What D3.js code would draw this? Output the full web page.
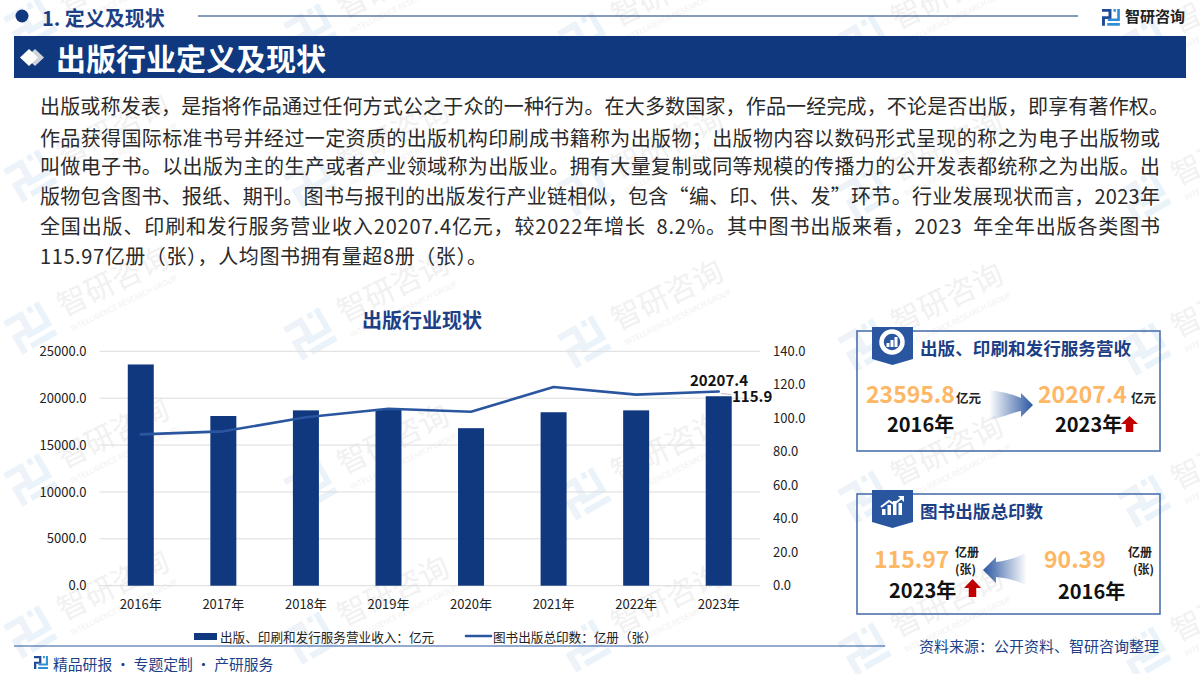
<!DOCTYPE html>
<html><head><meta charset="utf-8">
<script src="https://cdnjs.cloudflare.com/ajax/libs/d3/7.8.5/d3.min.js"></script>
<style>html,body{margin:0;padding:0;background:#fff;overflow:hidden}svg{display:block}text{font-family:"Noto Sans CJK SC","Noto Sans",sans-serif}</style>
</head><body><svg id="c" width="1200" height="674"></svg>
<script>
const categories=["2016年","2017年","2018年","2019年","2020年","2021年","2022年","2023年"];
const revenue=[23595.8,18100,18700,18850,16800,18500,18700,20207.4];
const prints=[90.39,92.2,100.6,105.7,103.9,118.7,114.1,115.97];
const leftTicks=[0,5000,10000,15000,20000,25000];
const rightTicks=[0,20,40,60,80,100,120,140];
const barLegend="出版、印刷和发行服务营业收入：亿元";
const lineLegend="图书出版总印数：亿册（张）";
const bodyLines=[
["出版或称发表，是指将作品通过任何方式公之于众的一种行为。在大多数国家，作品一经完成，不论是否出版，即享有著作权。",1129],
["作品获得国际标准书号并经过一定资质的出版机构印刷成书籍称为出版物；出版物内容以数码形式呈现的称之为电子出版物或",1120],
["叫做电子书。以出版为主的生产或者产业领域称为出版业。拥有大量复制或同等规模的传播力的公开发表都统称之为出版。出",1120],
["版物包含图书、报纸、期刊。图书与报刊的出版发行产业链相似，包含“编、印、供、发”环节。行业发展现状而言，2023年",1120],
["全国出版、印刷和发行服务营业收入20207.4亿元，较2022年增长  8.2%。其中图书出版来看，2023  年全年出版各类图书",1120],
["115.97亿册（张），人均图书拥有量超8册（张）。",447]];
const NAVY="#0f387f",BLUE="#2a56a0",ORANGE="#fdb765",TITLE="#1c3f86";
const svg=d3.select("#c");
const defs=svg.append("defs");
const gr=defs.append("linearGradient").attr("id","ga");
gr.append("stop").attr("offset","0").attr("stop-color",BLUE).attr("stop-opacity",0.02);
gr.append("stop").attr("offset","1").attr("stop-color",BLUE);
const gl=defs.append("linearGradient").attr("id","gb");
gl.append("stop").attr("offset","0").attr("stop-color",BLUE);
gl.append("stop").attr("offset","1").attr("stop-color",BLUE).attr("stop-opacity",0.02);

function txt(p,s,x,y,size,fill,o={}){
  const t=p.append("text").attr("x",x).attr("y",y).attr("font-size",size).attr("fill",fill)
   .attr("text-anchor",o.a||"start").attr("font-weight",o.w||400).attr("dominant-baseline","central").text(s);
  if(o.len)t.attr("textLength",o.len).attr("lengthAdjust","spacing");
  t.style("white-space","pre");
  return t;
}
function logo(p,x,y,s,c1,c2){
  const g=p.append("g").attr("transform",`translate(${x},${y}) scale(${s})`);
  g.append("path").attr("fill",c1).attr("d","M0 0H9V9.5H2.8V16H0V7H6.2V2.6H0Z");
  g.append("path").attr("fill",c2).attr("d","M11 0H13.2V2.6H11ZM14.5 0H17V11.5H5.5V9H14.5ZM5 13.4H17V16H5Z");
  return g;
}
// watermarks
const wm=svg.append("g");
const wmCols=[112,392,666,946,1226], wmBase=[279,285,293,296,300], wmSteps=[-2,-1,0,1,2];
wmCols.forEach((cx,i)=>wmSteps.forEach(k=>{
  const cy=wmBase[i]+152*k;
  const l=wm.append("g").attr("transform",`translate(${cx-82},${cy+49}) rotate(-30)`);
  logo(l,-20,-19,2.4,"#edf3f9","#eaf3fa");
  const g=wm.append("g").attr("transform",`translate(${cx},${cy}) rotate(-26)`);
  txt(g,"智研咨询",0,0,30,"#f1f1f1",{a:"middle",w:400});
  txt(g,"INTELLIGENCE RESEARCH GROUP",0,26,7.5,"#f1f1f1",{a:"middle"});
}));
// header
svg.append("circle").attr("cx",22).attr("cy",16).attr("r",6.5).attr("fill",NAVY);
txt(svg,"1. 定义及现状",42,17,20,TITLE,{w:700});
svg.append("line").attr("x1",198).attr("x2",1078).attr("y1",16).attr("y2",16).attr("stroke",NAVY).attr("stroke-width",1.2);
logo(svg,1102,9,1.05,"#1f4a96","#2f8fd6");
txt(svg,"智研咨询",1125,15,15,"#222",{w:700});
svg.append("rect").attr("x",14).attr("y",36).attr("width",1172).attr("height",42).attr("fill",NAVY);
svg.append("path").attr("d","M35 49L44 57.5L35 66L26 57.5Z").attr("fill","#cfd3da");
svg.append("path").attr("d","M29 49L38 57.5L29 66L20 57.5Z").attr("fill","#fff");
txt(svg,"出版行业定义及现状",56,57,30,"#fff",{w:700});
// body
const bodyY=[105,137,165,195,225,255];
bodyLines.forEach((d,i)=>txt(svg,d[0],40,bodyY[i],20,"#2a2a2a",{len:d[1]}));
// chart
const x=d3.scaleBand().domain(categories).range([99.5,760]);
const yL=d3.scaleLinear().domain([0,25000]).range([585.7,351.3]);
const yR=d3.scaleLinear().domain([0,140]).range([585.7,351.3]);
txt(svg,"出版行业现状",422,319,20,TITLE,{w:700,a:"middle"});
const axL=svg.append("g").attr("transform","translate(99.5,0)").call(d3.axisLeft(yL).tickValues(leftTicks).tickFormat(d3.format(".1f")).tickSize(0).tickPadding(13));
axL.select(".domain").remove();
axL.selectAll(".tick text").attr("font-size",13).attr("fill","#222").attr("font-family",'"Noto Sans CJK SC"');
svg.append("g").selectAll("line").data(leftTicks).join("line").attr("x1",99.5).attr("x2",760)
  .attr("y1",d=>yL(d)).attr("y2",d=>yL(d)).attr("stroke","#dcdcdc").attr("stroke-width",1);
const axR=svg.append("g").attr("transform","translate(760,0)").call(d3.axisRight(yR).tickValues(rightTicks).tickFormat(d3.format(".1f")).tickSize(0).tickPadding(13));
axR.select(".domain").remove();
axR.selectAll(".tick text").attr("font-size",13).attr("fill","#222").attr("font-family",'"Noto Sans CJK SC"');
const axB=svg.append("g").attr("transform","translate(0,585.7)").call(d3.axisBottom(x).tickSize(0).tickPadding(14));
axB.select(".domain").remove();
axB.selectAll(".tick text").attr("font-size",13).attr("fill","#222").attr("font-family",'"Noto Sans CJK SC"');
const bw=26;
svg.append("g").selectAll("rect").data(revenue).join("rect")
 .attr("x",(d,i)=>x(categories[i])+x.bandwidth()/2-bw/2).attr("width",bw)
 .attr("y",d=>yL(d)).attr("height",d=>yL(0)-yL(d)).attr("fill",NAVY);
svg.append("path").datum(prints).attr("fill","none").attr("stroke",BLUE).attr("stroke-width",2.6)
 .attr("stroke-linejoin","round").attr("stroke-linecap","round")
 .attr("d",d3.line().x((d,i)=>x(categories[i])+x.bandwidth()/2).y(d=>yR(d)));
const last=categories.length-1;
txt(svg,d3.format(".1f")(revenue[last]),719,379,15,"#111",{w:700,a:"middle"});
svg.append("line").attr("x1",721).attr("x2",731).attr("y1",yR(prints[last])+2).attr("y2",yR(prints[last])+3).attr("stroke","#bbb");
txt(svg,"115.9",732,395,15,"#111",{w:700});
// legend
svg.append("rect").attr("x",194).attr("y",633).attr("width",23).attr("height",7).attr("fill",NAVY);
txt(svg,barLegend,220,636,12.6,"#222");
svg.append("line").attr("x1",466).attr("x2",491).attr("y1",636).attr("y2",636).attr("stroke",BLUE).attr("stroke-width",2.6).attr("stroke-linecap","round");
txt(svg,lineLegend,493,636,12.6,"#222");
// footer
svg.append("line").attr("x1",14).attr("x2",885).attr("y1",646).attr("y2",646).attr("stroke",BLUE).attr("stroke-width",1.2);
logo(svg,34,656,0.82,"#1f4a96","#2f8fd6");
txt(svg,"精品研报 · 专题定制 · 产研服务",53,663,14.8,TITLE);
txt(svg,"资料来源：公开资料、智研咨询整理",919,645,15,TITLE);
// panels
function panel(y0,title){
  svg.append("rect").attr("x",857).attr("y",y0).attr("width",303).attr("height",120).attr("fill","#fff").attr("fill-opacity",0.0).attr("stroke","#4d72ad").attr("stroke-width",1.6);
  svg.append("path").attr("fill",BLUE).attr("d",`M872 ${y0-4}H913V${y0+28}L892.5 ${y0+34}L872 ${y0+28}Z`);
  txt(svg,title,920,y0+16,17.6,TITLE,{w:700});
}
function upArrow(x0,y0,h){
  const w=17;
  svg.append("path").attr("fill","#c00000").attr("d",`M${x0+w/2} ${y0}L${x0+w} ${y0+h*.5}H${x0+w*.72}V${y0+h}H${x0+w*.28}V${y0+h*.5}H${x0}Z`);
}
panel(331,"出版、印刷和发行服务营收");
// donut icon
svg.append("circle").attr("cx",892).attr("cy",342).attr("r",10.5).attr("fill","none").attr("stroke","#fff").attr("stroke-width",4.5);
svg.append("g").selectAll("rect").data([4,7,10]).join("rect").attr("x",(d,i)=>886.5+i*4).attr("y",d=>347-d).attr("width",3).attr("height",d=>d).attr("fill","#fff");
txt(svg,"23595.8",866,393,23,ORANGE,{w:700});
txt(svg,"亿元",956,397,12.5,"#222",{w:700});
txt(svg,"2016年",887,423,20,"#111",{w:700});
svg.append("path").attr("fill","url(#ga)").attr("d","M990 390C1005 392 1014 395 1021 398V393L1033 405L1021 417V411C1012 413 1003 417 990 420Z");
txt(svg,"20207.4",1038,393,23,ORANGE,{w:700});
txt(svg,"亿元",1131,397,12.5,"#222",{w:700});
txt(svg,"2023年",1055,423,20,"#111",{w:700});
upArrow(1121,416,16);

panel(494,"图书出版总印数");
// trend icon
svg.append("g").selectAll("rect").data([6,10,14,12]).join("rect").attr("x",(d,i)=>882+i*5.5).attr("y",d=>515-d).attr("width",3.5).attr("height",d=>d).attr("fill","#fff");
svg.append("path").attr("fill","none").attr("stroke","#fff").attr("stroke-width",2).attr("d","M881 507L889 501L894 504L902 498");
svg.append("path").attr("fill","#fff").attr("d","M898 496H904V502Z");
txt(svg,"115.97",874,558,23,ORANGE,{w:700});
txt(svg,"亿册",955,551,12,"#222",{w:700});
txt(svg,"(张)",955,568,12,"#222",{w:700});
txt(svg,"2023年",889,589,20,"#111",{w:700});
upArrow(964,579,18);
svg.append("path").attr("fill","url(#gb)").attr("d","M983 570L996 557V562C1006 561 1016 558 1026 553V585C1016 580 1006 578 996 577V583Z");
txt(svg,"90.39",1044,558,23,ORANGE,{w:700});
txt(svg,"亿册",1128,551,12,"#222",{w:700});
txt(svg,"(张)",1133,568,12,"#222",{w:700});
txt(svg,"2016年",1058,590,20,"#111",{w:700});
</script></body></html>
